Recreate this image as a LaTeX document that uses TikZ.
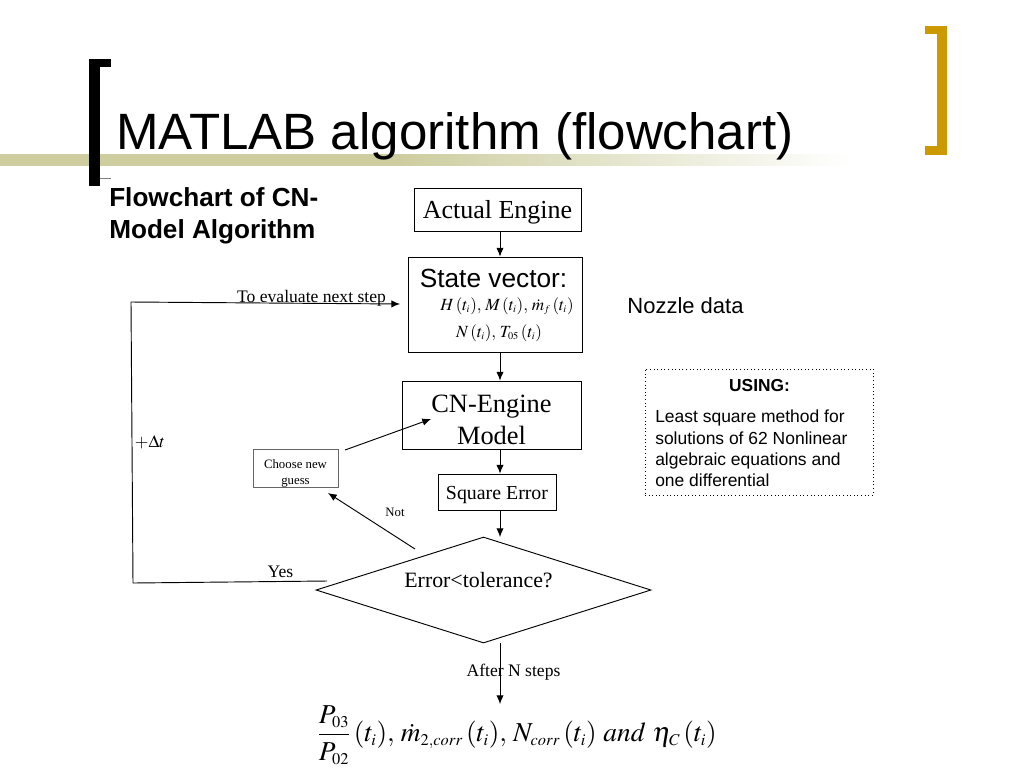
\documentclass[tikz,border=0pt]{standalone}
\usepackage{amsmath}
\usepackage{mathptmx}
\usepackage{fontspec}
\setmainfont{Liberation Serif}
\setsansfont{Liberation Sans}
\usetikzlibrary{shapes.geometric}
\usetikzlibrary{fadings}
\usetikzlibrary{arrows.meta}
\definecolor{barolive}{HTML}{CDCDA0}
\definecolor{bracketgold}{HTML}{CC9900}
\tikzset{
  boxnode/.style={draw, line width=.7pt, inner sep=0pt, align=center},
  conn/.style={-{Latex[length=6.5pt,width=5.5pt]}, line width=.7pt},
  labelnode/.style={inner sep=0pt, font=\fontsize{13.2pt}{15pt}\selectfont},
}
\newcommand{\sizedmath}[2]{\fontsize{#1}{#1}\selectfont$#2$}
\newcommand{\nudge}[1]{\rule{0pt}{#1}}
\newcommand{\ti}{\,(t_{\scriptscriptstyle i})}
\begin{document}
\begin{tikzpicture}[x=.75pt, y=-.75pt]
  \useasboundingbox (0,0) rectangle (1024,768);
  % slide furniture
  \fill[barolive] (0,154) rectangle (400,166);
  \fill[barolive, path fading=east] (400,154) rectangle (850,166);
  \fill (89,59) rectangle (111,67);
  \fill (89,59) rectangle (100,186);
  \draw[black!50, line width=.4pt] (100,178.5) -- (111,178.5);
  \fill[bracketgold] (925,26) rectangle (947,34);
  \fill[bracketgold] (937,26) rectangle (947,155);
  \fill[bracketgold] (925,146) rectangle (947,155);
  \node[anchor=west, inner sep=0pt, font=\sffamily\fontsize{38.3pt}{44pt}\selectfont] (title) at (116,136) {MATLAB algorithm (flowchart)};
  \node[anchor=north west, inner sep=0pt, align=left, font=\sffamily\bfseries\fontsize{19.6pt}{24pt}\selectfont] (heading) at (109,187) {Flowchart of CN-\\Model Algorithm};

  % flowchart
  \node[boxnode, minimum width=167*.75pt, minimum height=43*.75pt, font=\fontsize{19.5pt}{20pt}\selectfont] (engine) at (497.5,209.5) {\nudge{17.5pt}Actual Engine};
  \node[boxnode, minimum width=174*.75pt, minimum height=95*.75pt] (state) at (495,304.5) {};
  \node[inner sep=0pt, font=\sffamily\fontsize{19.7pt}{20pt}\selectfont] (statetitle) at (493.5,278) {State vector:};
  \node[inner sep=0pt] (stateone) at (507,306) {\sizedmath{12.8pt}{H\ti,\,M\ti,\,\dot m_{\scriptscriptstyle f}\ti}};
  \node[inner sep=0pt] (statetwo) at (499,333) {\sizedmath{12.8pt}{N\ti,\,T_{\scriptscriptstyle 05}\ti}};
  \node[boxnode, minimum width=179*.75pt, minimum height=68*.75pt, font=\fontsize{19.8pt}{24pt}\selectfont] (model) at (491.5,415) {\nudge{20.5pt}CN-Engine\\Model};
  \node[boxnode, minimum width=118*.75pt, minimum height=36*.75pt, font=\fontsize{14.9pt}{16pt}\selectfont] (square) at (497,492) {\nudge{14.2pt}Square Error};
  \node[boxnode, draw=black!60, minimum width=85*.75pt, minimum height=37*.75pt, font=\fontsize{9.6pt}{12pt}\selectfont] (guess) at (295.5,468.5) {\nudge{14pt}Choose new\\guess};
  \node[draw, line width=.7pt, diamond, aspect=3.16, inner sep=0pt, minimum width=335*.75pt, minimum height=106*.75pt] (decision) at (483.5,590) {};
  \node[inner sep=0pt, font=\fontsize{16.4pt}{18pt}\selectfont] (errortext) at (478.5,580) {Error<tolerance?};
  \node[inner sep=0pt] (result) at (517,735) {\sizedmath{20.5pt}{\dfrac{P_{\scriptscriptstyle 03}}{P_{\scriptscriptstyle 02}}\ti,\,\dot m_{\scriptscriptstyle 2,corr}\ti,\,N_{\scriptscriptstyle corr}\ti\ and\ \eta_{\scriptscriptstyle C}\ti}};

  % free ends
  \coordinate (yesend) at (327,581);
  \coordinate (yescorner) at (133,583);
  \coordinate (loopcorner) at (131,302);
  \coordinate (loopend) at (400,304);
  \coordinate (notstart) at (415,549);
  \coordinate (notend) at (328,493);
  \coordinate (guessout) at (345,450);
  \coordinate (modelin) at (431,419);
  \coordinate (squarein) at (500,537);
  \coordinate (decisionout) at (500,643);
  \coordinate (resultin) at (500,704);

  \draw[conn] (engine.south -| 500,0) -- (state.north -| 500,0);
  \draw[conn] (state.south -| 500,0) -- (model.north -| 500,0);
  \draw[conn] (model.south -| 500,0) -- (square.north -| 500,0);
  \draw[conn] (square.south -| 500,0) -- (squarein);
  \draw[conn] (decisionout) -- (resultin);
  \draw[conn] (guessout) -- (modelin);
  \draw[conn] (notstart) -- (notend);
  \draw[conn] (yesend) -- (yescorner) -- (loopcorner) -- (loopend);

  % labels
  \node[labelnode] (nextstep) at (311.5,298.5) {To evaluate next step};
  \node[labelnode] (deltat) at (150,442) {$+\Delta t$};
  \node[labelnode] (yes) at (280.5,572) {Yes};
  \node[labelnode, font=\fontsize{9.6pt}{11pt}\selectfont] (notlabel) at (395,512) {Not};
  \node[labelnode] (aftersteps) at (513.5,672) {After N steps};
  \node[inner sep=0pt, font=\sffamily\fontsize{16.5pt}{18pt}\selectfont] (nozzle) at (685.5,306) {Nozzle data};
  \node[draw, dotted, line width=.7pt, minimum width=228*.75pt, minimum height=126*.75pt] (usingbox) at (759,432) {};
  \node[inner sep=0pt, font=\sffamily\bfseries\fontsize{13pt}{14pt}\selectfont] (usinghead) at (759.5,386) {USING:};
  \node[anchor=north west, inner sep=0pt, align=left, font=\sffamily\fontsize{13.1pt}{16pt}\selectfont] (usingtext) at (655,410) {Least square method for\\solutions of 62 Nonlinear\\algebraic equations and\\one differential};
\end{tikzpicture}
\end{document}
